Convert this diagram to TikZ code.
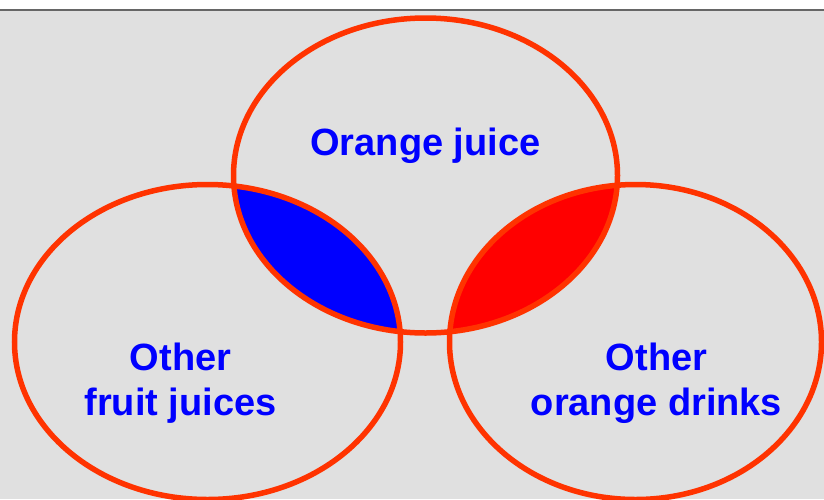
\documentclass[tikz,border=0pt]{standalone}
\usepackage{fontspec}
\setmainfont{Liberation Sans}
\begin{document}
\begin{tikzpicture}[x=0.5pt,y=-0.5pt]
\definecolor{ringred}{RGB}{255,51,0}
\definecolor{bgray}{RGB}{224,224,224}
\definecolor{lensblue}{RGB}{0,0,255}
\definecolor{lensred}{RGB}{255,0,0}
\definecolor{textblue}{RGB}{0,0,255}
\tikzset{
  ring/.style={draw=ringred,line width=2.75pt},
  vlabel/.style={text=textblue,font=\fontsize{19}{22.5}\selectfont\bfseries,align=center,anchor=base,inner sep=0pt},
  topell/.style={x radius=96pt,y radius=78.75pt},
  leftell/.style={x radius=96.5pt,y radius=78.75pt},
  rightell/.style={x radius=93pt,y radius=78.75pt}
}
\useasboundingbox (0,0) rectangle (824,499);
\clip (0,0) rectangle (824,499);
\fill[white] (0,0) rectangle (824,10);
\fill[bgray] (0,10) rectangle (824,499);
\draw[line width=0.6pt,color=black!60] (0,10) -- (824,10);
\coordinate (ctop) at (425.5,175.5);
\coordinate (cleft) at (207.5,342);
\coordinate (cright) at (635.5,342);
% lenses
\begin{scope}
  \clip (ctop) ellipse [topell];
  \fill[lensblue] (cleft) ellipse [leftell];
\end{scope}
\begin{scope}
  \clip (ctop) ellipse [topell];
  \fill[lensred] (cright) ellipse [rightell];
\end{scope}
% rings
\draw[ring] (ctop) ellipse [topell];
\draw[ring] (cleft) ellipse [leftell];
\draw[ring] (cright) ellipse [rightell];
% labels
\node[vlabel] (oj) at (425.5,155) {Orange juice};
\node[vlabel] (ofj) at (180.5,415) {Other\\fruit juices};
\node[vlabel] (ood) at (656.5,415) {Other\\orange drinks};
\end{tikzpicture}
\end{document}
